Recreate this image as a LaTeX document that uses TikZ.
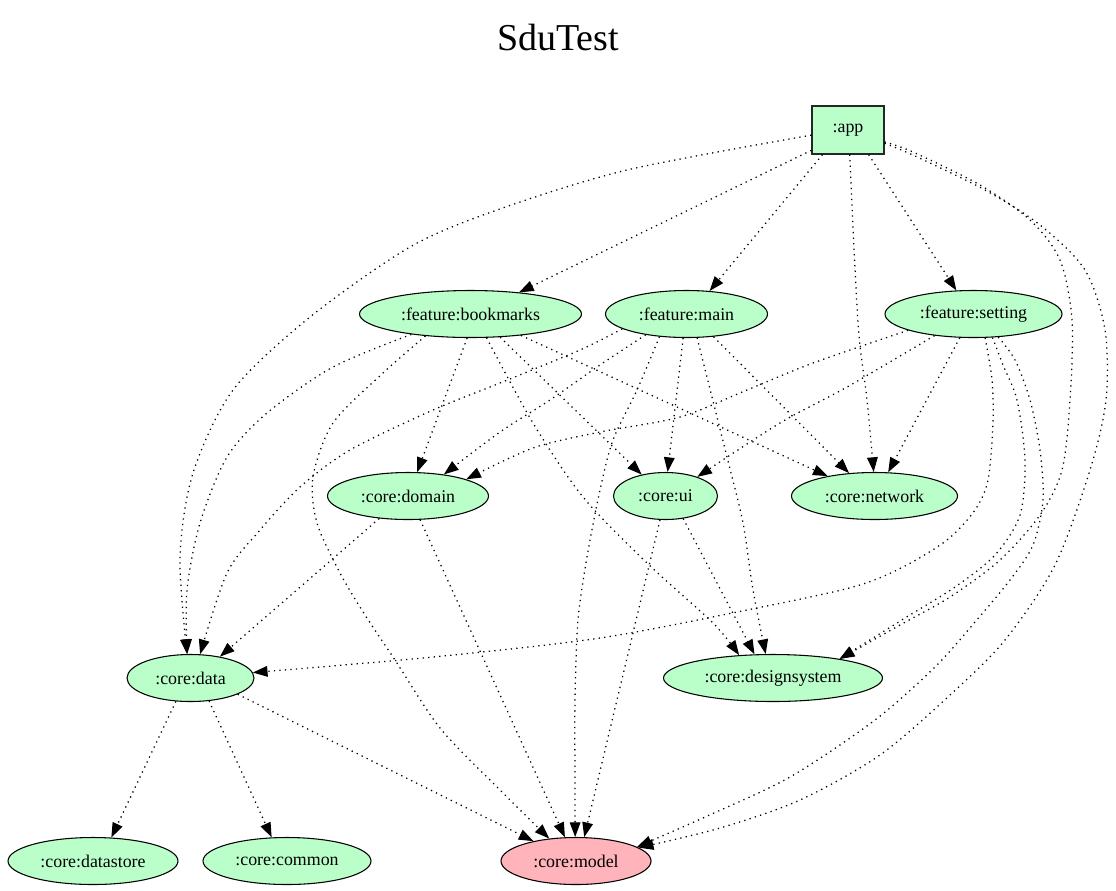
\documentclass[tikz,border=0pt]{standalone}
\usepackage{fontspec}
\setmainfont{Liberation Serif}
\usetikzlibrary{shapes.geometric,arrows.meta}
\definecolor{mgreen}{HTML}{BAFFC9}
\definecolor{mpink}{HTML}{FFB3BA}
\begin{document}
\begin{tikzpicture}[x=0.75pt,y=-0.75pt,
  lbl/.style={font=\fontsize{13.4}{16}\selectfont},
  mod/.style={ellipse,draw=black,line width=0.8pt,fill=mgreen,minimum height=35.25pt,inner sep=0pt,lbl},
  edge/.style={line width=0.95pt,dash pattern=on 0.95pt off 3.2pt,-{Triangle[length=11pt,width=8pt]}},
]
\useasboundingbox (0,0) rectangle (1116,890);
\fill[white] (0,0) rectangle (1116,890);
\node (title) at (558,37) {\fontsize{28.5}{34}\selectfont SduTest};

\node[rectangle,draw=black!85,line width=0.9pt,fill=mgreen,minimum width=54pt,minimum height=36pt,inner sep=0pt,lbl] (app) at (848,130) {:app};
\node[mod,minimum width=166.5pt] (bookmarks) at (470.5,314) {:feature:bookmarks};
\node[mod,minimum width=121.5pt] (main) at (686.5,314) {:feature:main};
\node[mod,minimum width=132.75pt] (setting) at (973.5,314) {:feature:setting};
\node[mod,minimum width=120.75pt] (domain) at (408,496) {:core:domain};
\node[mod,minimum width=78pt] (ui) at (665.5,496) {:core:ui};
\node[mod,minimum width=124.5pt] (network) at (874.5,496) {:core:network};
\node[mod,minimum width=95.25pt] (data) at (190.5,678) {:core:data};
\node[mod,minimum width=164.25pt] (ds) at (773,678) {:core:designsystem};
\node[mod,minimum width=127.5pt] (datastore) at (93,861) {:core:datastore};
\node[mod,minimum width=126pt] (common) at (287,861) {:core:common};
\node[mod,fill=mpink,minimum width=112.5pt] (model) at (576,861) {:core:model};

% app
\draw[edge] (app.-151) -- (bookmarks.24);
\draw[edge] (app.-136) -- (main.45);
\draw[edge] plot[smooth] coordinates {(app.-86) (858,323) (867,400) (network.92)};
\draw[edge] (app.-50) -- (setting.126);
\draw[edge] plot[smooth] coordinates {(app.-172) (627,170) (497,210) (410,247) (310,317) (233,390) (193,473) (180,557) (data.98)};
\draw[edge] plot[smooth] coordinates {(app.-18) (913,152) (980,185) (1030,220) (1060,260) (1072,320) (1070,400) (1062,470) (1040,515) (1000,560) (950,597) (900,625) (ds.16)};
\draw[edge] plot[smooth] coordinates {(app.-20) (915,156) (985,190) (1040,225) (1085,270) (1105,330) (1106,400) (1090,470) (1055,565) (1005,640) (950,695) (880,755) (800,800) (720,828) (model.12)};

% bookmarks
\draw[edge] plot[smooth] coordinates {(bookmarks.-161) (333,367) (267,413) (227,457) (200,523) (187,590) (data.98)};
\draw[edge] plot[smooth] coordinates {(bookmarks.-154) (383,373) (333,423) (313,477) (317,523) (340,573) (365,615) (395,660) (440,728) (498,788) (model.140)};
\draw[edge] (bookmarks.-98) -- (domain.69);
\draw[edge] (bookmarks.-38) -- (ui.138);
\draw[edge] (bookmarks.-23) -- (network.157);
\draw[edge] plot[smooth] coordinates {(bookmarks.-56) (533,423) (583,497) (647,563) (713,623) (ds.146)};

% main
\draw[edge] plot[smooth] coordinates {(main.-167) (580,350) (500,383) (433,410) (350,450) (300,487) (260,530) (227,573) (data.68)};
\draw[edge] plot[smooth] coordinates {(main.-153) (600,365) (550,400) (500,432) (domain.31)};
\draw[edge] plot[smooth] coordinates {(main.-140) (637,390) (613,440) (600,490) (587,557) (578,620) (575,700) (575,780) (model.92)};
\draw[edge] (main.-98) -- (ui.85);
\draw[edge] (main.-40) -- (network.138);
\draw[edge] plot[smooth] coordinates {(main.-66) (727,457) (743,523) (753,590) (ds.107)};

% setting
\draw[edge] plot[smooth] coordinates {(setting.-166) (813,363) (747,390) (680,417) (600,432) (533,448) (domain.16)};
\draw[edge] plot[smooth] coordinates {(setting.-151) (847,387) (780,423) (ui.31)};
\draw[edge] (setting.-120) -- (network.60);
\draw[edge] plot[smooth] coordinates {(setting.-64) (992,380) (993,423) (988,480) (975,510) (947,540) (903,567) (853,587) (747,610) (600,638) (433,657) (data.5)};
\draw[edge] plot[smooth] coordinates {(setting.-51) (1003,365) (1017,400) (1025,460) (1020,515) (995,555) (955,587) (905,618) (ds.16)};
\draw[edge] plot[smooth] coordinates {(setting.-43) (1015,360) (1030,400) (1040,450) (1043,500) (1033,545) (1010,580) (975,622) (935,667) (875,720) (790,777) (705,817) (model.13)};

% core
\draw[edge] (domain.-142) -- (data.36);
\draw[edge] (domain.-63) -- (model.115);
\draw[edge] (ui.-52) -- (ds.128);
\draw[edge] (ui.-103) -- (model.71);
\draw[edge] (data.-122) -- (datastore.52);
\draw[edge] (data.-51) -- (common.123);
\draw[edge] (data.-19) -- (model.155);
\end{tikzpicture}
\end{document}
